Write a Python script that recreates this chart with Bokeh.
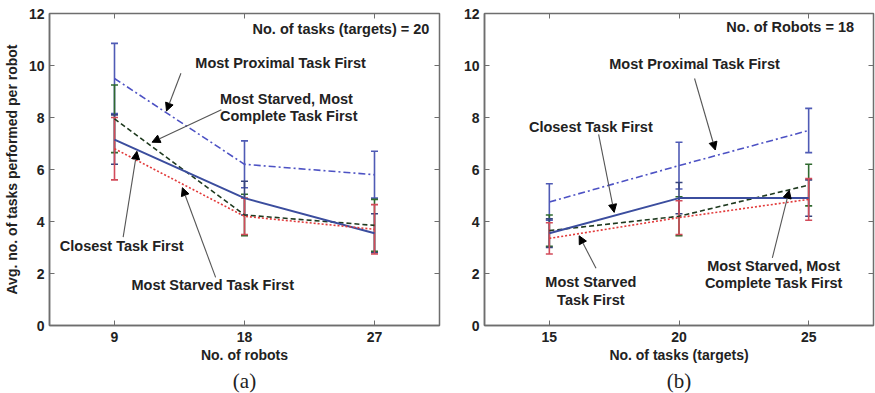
from bokeh.plotting import figure
from bokeh.layouts import row
from bokeh.models import (ColumnDataSource, Whisker, TeeHead, Label, Arrow, NormalHead,
                          LinearAxis, FixedTicker, Title, Range1d, CustomJSTickFormatter)
from bokeh.embed import file_html
from bokeh.resources import INLINE

# ---- data -------------------------------------------------------------
robots = [9, 18, 27]
tasks = [15, 20, 25]

# panel (a): number of tasks = 20
a_proximal = [9.5, 6.2, 5.8]
a_proximal_err = [1.35, 0.9, 0.9]
a_closest = [7.15, 4.9, 3.55]
a_closest_err = [0.95, 0.65, 0.75]
a_msmc = [7.95, 4.25, 3.85]
a_msmc_err = [1.3, 0.8, 1.0]
a_starved = [6.8, 4.2, 3.7]
a_starved_err = [1.2, 0.7, 0.95]

# panel (b): number of robots = 18
b_proximal = [4.75, 6.15, 7.5]
b_proximal_err = [0.7, 0.9, 0.85]
b_closest = [3.55, 4.9, 4.9]
b_closest_err = [0.55, 0.6, 0.7]
b_msmc = [3.65, 4.2, 5.4]
b_msmc_err = [0.6, 0.75, 0.8]
b_starved = [3.35, 4.15, 4.85]
b_starved_err = [0.6, 0.65, 0.8]

y_ticks = [0, 2, 4, 6, 8, 10, 12]

FONT = "Liberation Sans"
AXIS_GRAY = "#6e6e6e"

STYLES = {
    "proximal": dict(color="#4d52c4", dash="7 3 2 3", width=1.6, bar="#4f5bb5"),
    "closest": dict(color="#3b4d9e", dash="solid", width=2.0, bar="#37457e"),
    "msmc": dict(color="#1f3a1f", dash="5 3", width=1.6, bar="#2f6a2f"),
    "starved": dict(color="#e23a3a", dash="2 2", width=1.6, bar="#d24b5a"),
}


def make_panel(xs, series, x_range, x_ticks, x_label, y_label, tag,
               width, border_left):
    p = figure(width=width, height=393, x_range=Range1d(*x_range), y_range=Range1d(0, 12),
               output_backend="svg", toolbar_location=None,
               min_border_left=border_left, min_border_right=2,
               min_border_top=13, min_border_bottom=10)
    p.background_fill_color = "white"
    p.border_fill_color = "white"
    p.grid.visible = False
    p.outline_line_color = AXIS_GRAY
    p.outline_line_width = 1.5

    p.xaxis.ticker = FixedTicker(ticks=x_ticks)
    p.yaxis.ticker = FixedTicker(ticks=y_ticks)
    for ax in (p.xaxis[0], p.yaxis[0]):
        ax.axis_line_color = AXIS_GRAY
        ax.axis_line_width = 1.5
        ax.major_tick_in = 5
        ax.major_tick_out = 0
        ax.minor_tick_line_color = None
        ax.major_tick_line_color = AXIS_GRAY
        ax.major_label_text_font = FONT
        ax.major_label_text_font_style = "bold"
        ax.major_label_text_font_size = "14px"
        ax.major_label_text_color = "#222222"
        ax.axis_label_text_font = FONT
        ax.axis_label_text_font_style = "bold"
        ax.axis_label_text_font_size = "14px"
        ax.axis_label_text_color = "#222222"
    p.xaxis.axis_label = x_label
    p.xaxis.major_label_standoff = 6
    p.xaxis.axis_label_standoff = 2
    p.yaxis.major_label_standoff = 5
    if y_label:
        p.yaxis.axis_label = y_label
        p.yaxis.axis_label_standoff = 6

    # tick marks on the top and right edges of the box (no labels there)
    blank = CustomJSTickFormatter(code="return '';")
    top = LinearAxis(ticker=FixedTicker(ticks=x_ticks), formatter=blank)
    right = LinearAxis(ticker=FixedTicker(ticks=y_ticks), formatter=blank)
    for ax in (top, right):
        ax.axis_line_color = None
        ax.major_tick_in = 5
        ax.major_tick_out = 0
        ax.major_tick_line_color = AXIS_GRAY
        ax.minor_tick_line_color = None
        ax.major_label_standoff = 0
    p.add_layout(top, "above")
    p.add_layout(right, "right")

    # error bars first, lines on top
    for key, (vals, errs) in series.items():
        st = STYLES[key]
        src = ColumnDataSource(dict(
            x=xs, y=vals,
            lower=[v - e for v, e in zip(vals, errs)],
            upper=[v + e for v, e in zip(vals, errs)]))
        w = Whisker(source=src, base="x", lower="lower", upper="upper",
                    line_color=st["bar"], line_width=1.6,
                    lower_head=TeeHead(size=7, line_color=st["bar"], line_width=1.6),
                    upper_head=TeeHead(size=7, line_color=st["bar"], line_width=1.6))
        p.add_layout(w)
    for key, (vals, errs) in series.items():
        st = STYLES[key]
        p.line(xs, vals, line_color=st["color"], line_width=st["width"],
               line_dash=st["dash"])

    p.add_layout(Title(text=tag, align="center", text_font="Liberation Serif",
                       text_font_size="21px", text_font_style="normal",
                       text_color="#222222", standoff=2), "below")
    return p


def add_label(p, x, y, text, align="center"):
    p.add_layout(Label(x=x, y=y, text=text, text_font=FONT, text_font_style="bold",
                       text_font_size="14.5px", text_color="#222222",
                       text_align=align, text_baseline="middle"))


def add_arrow(p, xs, ys, xe, ye):
    p.add_layout(Arrow(x_start=xs, y_start=ys, x_end=xe, y_end=ye,
                       line_color="#555555", line_width=1.1,
                       end=NormalHead(size=8, fill_color="black", line_color="black")))


left = make_panel(
    robots,
    {"proximal": (a_proximal, a_proximal_err), "msmc": (a_msmc, a_msmc_err),
     "closest": (a_closest, a_closest_err), "starved": (a_starved, a_starved_err)},
    (4.5, 31.5), robots, "No. of robots", "Avg. no. of tasks performed per robot", "(a)",
    441, 49)

add_label(left, 30.8, 11.42, "No. of tasks (targets) = 20", align="right")
add_label(left, 20.5, 10.1, "Most Proximal Task First")
add_arrow(left, 13.6, 9.7, 12.6, 8.25)
add_label(left, 16.3, 8.72, "Most Starved, Most", align="left")
add_label(left, 16.3, 8.06, "Complete Task First", align="left")
add_arrow(left, 16.4, 8.3, 11.6, 7.05)
add_label(left, 9.5, 3.07, "Closest Task First")
add_arrow(left, 9.6, 3.4, 10.55, 6.7)
add_label(left, 15.8, 1.55, "Most Starved Task First")
add_arrow(left, 16.0, 1.85, 13.7, 5.3)

right = make_panel(
    tasks,
    {"proximal": (b_proximal, b_proximal_err), "msmc": (b_msmc, b_msmc_err),
     "closest": (b_closest, b_closest_err), "starved": (b_starved, b_starved_err)},
    (12.5, 27.5), tasks, "No. of tasks (targets)", None, "(b)",
    434, 43)

add_label(right, 26.75, 11.5, "No. of Robots = 18", align="right")
add_label(right, 20.6, 10.06, "Most Proximal Task First")
add_arrow(right, 20.6, 9.5, 21.4, 6.75)
add_label(right, 16.6, 7.65, "Closest Task First")
add_arrow(right, 16.9, 7.35, 17.5, 4.35)
add_label(right, 16.6, 1.67, "Most Starved")
add_label(right, 16.6, 0.99, "Task First")
add_arrow(right, 16.8, 2.2, 16.15, 3.45)
add_label(right, 23.65, 2.29, "Most Starved, Most")
add_label(right, 23.65, 1.63, "Complete Task First")
add_arrow(right, 23.6, 2.6, 24.25, 5.2)

layout = row(left, right)
open("out.html", "w").write(file_html(layout, INLINE))
